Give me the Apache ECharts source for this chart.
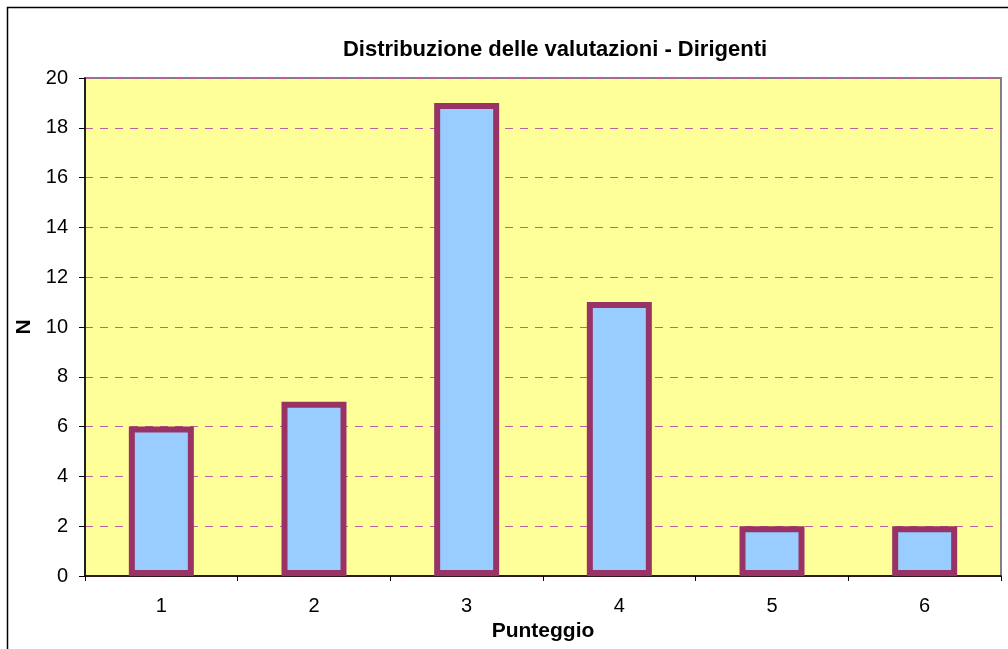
<!DOCTYPE html>
<html>
<head>
<meta charset="utf-8">
<script src="https://cdn.jsdelivr.net/npm/echarts@6/dist/echarts.min.js"></script>
<style>
html,body{margin:0;padding:0;background:#fff;}
#c{width:1008px;height:649px;}
</style>
</head>
<body>
<div id="c"></div>
<script>
const categories = ['1', '2', '3', '4', '5', '6'];
const counts = [6, 7, 19, 11, 2, 2];
const titleText = 'Distribuzione delle valutazioni - Dirigenti';
const xName = 'Punteggio';
const yName = 'N';

const chart = echarts.init(document.getElementById('c'), null, {renderer: 'canvas'});
chart.setOption({
  animation: false,
  backgroundColor: '#ffffff',
  graphic: [{
    type: 'rect', z: -10,
    shape: {x: 7.5, y: 7.5, width: 1010, height: 660},
    style: {fill: '#ffffff', stroke: '#000000', lineWidth: 1.5}
  }],
  title: {
    text: titleText, left: 550, top: 34, textAlign: 'center',
    textStyle: {fontFamily: 'Liberation Sans, Arial', fontSize: 22, fontWeight: 'bold', color: '#000'}
  },
  grid: {
    left: 85, top: 78, width: 916, height: 498,
    show: true, backgroundColor: '#FFFF99', borderColor: '#808080', borderWidth: 2
  },
  xAxis: {
    type: 'category', data: categories,
    name: xName, nameLocation: 'middle', nameGap: 41,
    nameTextStyle: {fontFamily: 'Liberation Sans, Arial', fontSize: 21, fontWeight: 'bold', color: '#000'},
    axisLine: {lineStyle: {color: '#000', width: 1.5}},
    axisTick: {show: true, alignWithLabel: false, length: 5, lineStyle: {color: '#000'}},
    axisLabel: {fontFamily: 'Liberation Sans, Arial', fontSize: 20, color: '#000', margin: 20},
    splitLine: {show: false}
  },
  yAxis: {
    type: 'value', min: 0, max: 20, interval: 2,
    name: yName, nameLocation: 'middle', nameGap: 45, nameRotate: 90,
    nameTextStyle: {fontFamily: 'Liberation Sans, Arial', fontSize: 21, fontWeight: 'bold', color: '#000'},
    axisLine: {show: true, lineStyle: {color: '#000', width: 1.5}},
    axisTick: {show: true, length: 6, lineStyle: {color: '#000'}},
    axisLabel: {fontFamily: 'Liberation Sans, Arial', fontSize: 20, color: '#000', margin: 17},
    splitLine: {show: true, lineStyle: {color: '#C0609A', type: [8, 7], width: 1}}
  },
  series: [{
    type: 'bar', data: counts, barWidth: 65,
    itemStyle: {color: '#99CCFF', borderColor: '#993366', borderWidth: 6}
  }]
});
</script>
</body>
</html>
